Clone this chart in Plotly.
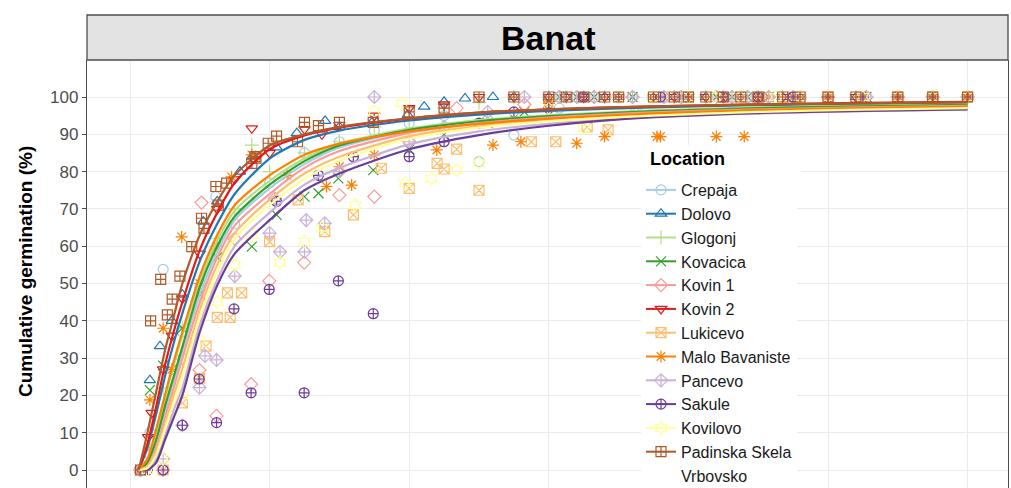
import plotly.graph_objects as go

# ---------------- data ----------------
LOCATIONS = ["Crepaja", "Dolovo", "Glogonj", "Kovacica", "Kovin 1", "Kovin 2",
             "Lukicevo", "Malo Bavaniste", "Pancevo", "Sakule", "Kovilovo",
             "Padinska Skela", "Vrbovsko"]
LEGEND_TITLE = "Location"
FACET_TITLE = "Banat"
Y_TITLE = "Cumulative germination (%)"

Y_TICKS = [0, 10, 20, 30, 40, 50, 60, 70, 80, 90, 100]
X_GRID = [0, 4, 8, 12, 16, 20, 24]

# fitted curves (cumulative germination %) at these times (days)
CURVE_DAYS = [0.25, 0.5, 0.75, 1, 1.25, 1.5, 2, 2.5, 3, 4, 5, 6, 8, 10, 12, 15, 18, 21, 24]
C_CREPAJA = [0, 2, 8, 16, 24, 32, 47, 58.5, 67, 75.5, 82, 86.5, 91, 93.4, 94.8, 96.1, 96.9, 97.4, 97.8]
C_DOLOVO = [0, 6, 15, 25, 34, 42, 56, 66, 74, 83.5, 88.5, 91, 93.7, 95.3, 96.3, 97.2, 97.8, 98.1, 98.4]
C_GLOGONJ = [0, 3, 10, 19, 28, 36, 50.5, 61.5, 69.5, 77.5, 83.5, 87.5, 91.5, 93.8, 95.1, 96.4, 97.2, 97.7, 98.0]
C_KOVACICA = [0, 2, 8, 17, 25, 33, 49, 60, 68, 76.5, 82.8, 87, 91.2, 93.5, 94.9, 96.2, 97, 97.5, 97.9]
C_KOVIN1 = [0, 1, 6, 14, 22, 30, 45, 57, 65.5, 74, 81, 85.5, 90.4, 93, 94.5, 95.9, 96.7, 97.2, 97.6]
C_KOVIN2 = [0, 7, 17, 28, 37, 45, 59, 69, 77, 86, 89.7, 91.8, 94.2, 95.8, 96.7, 97.5, 98, 98.4, 98.7]
C_LUKICEVO = [0, 1, 5, 12, 20, 27, 43, 55, 63.5, 72.5, 79.5, 84, 89.5, 92.2, 93.8, 95.2, 96.1, 96.7, 97.1]
C_MALO = [0, 3, 11, 20, 29, 37, 52, 63, 71, 79, 84.5, 87.5, 90.8, 92.8, 94.2, 95.6, 96.5, 97, 97.4]
C_PANCEVO = [0, 0.3, 3, 9, 16, 22, 39, 51, 60, 69, 76.5, 81, 87.3, 90.8, 92.8, 94.6, 95.6, 96.2, 96.7]
C_SAKULE = [0, 0, 2, 8, 14, 20, 37, 49.5, 58, 67, 75, 79.5, 86, 89.8, 92.3, 94.6, 95.7, 96.3, 96.7]
C_KOVILOVO = [0, 0.5, 4, 11, 18, 25, 41, 53, 62, 71, 78, 83, 88.8, 91.8, 93.5, 95, 96, 96.6, 97]
C_PADINSKA = [0, 10, 21, 32, 41, 50, 63, 72, 79, 87, 90, 92, 94.3, 95.8, 96.7, 97.5, 98, 98.3, 98.6]

# observed points (days, %)
X_CREPAJA = [0.3, 0.57, 0.95, 1.5, 2.0, 2.46, 3.0, 4.0, 5.0, 6.0, 7.0, 8.0, 9.0, 10.0, 11.0, 12.3,
             12.8, 13.3, 14.4, 15.3, 15.8, 16.8, 17.25, 17.7, 18.3, 19.0, 20.0, 21.1, 22.0, 23.0, 24.0]
Y_CREPAJA = [0, 10, 53.8, 37, 49, 73.3, 66, 77, 85, 88, 91, 93, 95, 82.7, 89.8, 97,
             100, 100, 100, 100, 100, 100, 100, 100, 100, 100, 100, 100, 100, 100, 100]

X_DOLOVO = [0.3, 0.57, 0.86, 1.2, 1.5, 2.1, 2.5, 3.15, 3.5, 4.2, 4.78, 5.59, 6.0, 7.0, 7.96, 8.43, 9.0,
            9.6, 10.4, 11, 12, 12.5, 13, 13.6, 14, 15, 15.6, 16, 16.5, 17, 17.5, 18, 18.7, 19.2, 20,
            20.8, 22, 23, 24]
Y_DOLOVO = [0, 24.1, 33.2, 40, 47, 66.6, 72, 80, 84, 86.5, 90.3, 93.6, 92, 94, 95.2, 97.4, 98.7,
            99.6, 100, 100, 100, 100, 100, 100, 100, 100, 100, 100, 100, 100, 100, 100, 100, 100, 100,
            100, 100, 100, 100]

X_GLOGONJ = [0.3, 0.57, 0.95, 1.5, 2.0, 2.5, 3.0, 3.49, 4.0, 5.0, 6.0, 7.0, 8.0, 9.0, 10, 11, 12,
             12.5, 13, 13.6, 14, 15, 15.6, 16, 16.5, 17, 17.5, 18, 18.7, 19.2, 20, 20.8, 22, 23, 24]
Y_GLOGONJ = [0, 6, 22, 38, 50, 62, 70, 87.1, 80, 85, 88, 92, 94, 97, 98.5, 100, 100,
             100, 100, 100, 100, 100, 100, 100, 100, 100, 100, 100, 100, 100, 100, 100, 100, 100, 100]

X_KOVACICA = [0.3, 0.57, 0.95, 1.5, 2.0, 2.5, 3.49, 4.2, 5.0, 5.4, 5.97, 6.97, 8.0, 9.0, 10.25, 11.3,
              12.3, 12.8, 13.3, 14.4, 15.3, 15.8, 16.8, 17.25, 17.7, 18.3, 19.0, 20.0, 21.1, 22.0,
              23.0, 24.0]
Y_KOVACICA = [0, 21.4, 28, 38, 47, 57, 59.9, 68.4, 73.3, 74.2, 78.2, 80.4, 86, 90, 93, 96,
              100, 100, 100, 100, 100, 100, 100, 100, 100, 100, 100, 100, 100, 100, 100, 100]

X_KOVIN1 = [0.3, 0.57, 0.95, 1.5, 1.99, 2.05, 2.48, 3.0, 3.47, 3.99, 4.99, 6.0, 7.0, 8.0, 9.36,
            10.25, 11.3, 12.3, 12.8, 13.3, 14.4, 15.3, 15.8, 16.8, 17.25, 17.7, 18.3, 19.0, 20.0,
            21.1, 22.0, 23.0, 24.0]
Y_KOVIN1 = [0, 4, 0, 30, 26.8, 71.7, 14.5, 62, 23.0, 50.7, 55.6, 73.7, 73.3, 88, 97,
            94, 98, 100, 100, 100, 100, 100, 100, 100, 100, 100, 100, 100, 100,
            100, 100, 100, 100]

X_KOVIN2 = [0.3, 0.52, 0.62, 0.95, 1.2, 1.5, 2.0, 2.5, 3.0, 3.49, 4.0, 5.0, 5.5, 6.0, 7.0, 8.0, 9.0,
            10, 11, 12, 12.5, 13, 13.6, 14, 15, 15.6, 16, 16.5, 17, 17.5, 18, 18.7, 19.2, 20, 20.8,
            22, 23, 24]
Y_KOVIN2 = [0, 8.8, 15.3, 27, 36, 46, 58, 70, 78, 91.6, 85, 91.4, 90, 92.5, 95, 97, 98,
            100, 100, 100, 100, 100, 100, 100, 100, 100, 100, 100, 100, 100, 100, 100, 100, 100, 100,
            100, 100, 100]

X_LUKICEVO = [0.95, 1.5, 1.99, 2.18, 2.5, 2.79, 2.87, 3.2, 4.0, 4.82, 5.58, 6.4, 7.2, 8.0, 8.8, 9.0,
              9.36, 10.0, 11.5, 12.2, 13.1, 13.7, 14.5, 15.3, 16.0, 17.0, 18.0, 19.0, 20.0, 21.0,
              22.0, 23.0, 24.0]
Y_LUKICEVO = [0, 18, 24.6, 33.2, 40.9, 47.5, 40.9, 47.5, 61.2, 72.4, 63.9, 68.4, 80.9, 75.5, 82.2,
              80.7, 86, 75, 88, 88, 92, 91.2, 96, 100, 100, 100, 100, 100, 100, 100,
              100, 100, 100]

X_MALO = [0.3, 0.57, 0.95, 1.2, 1.48, 2.0, 2.5, 2.91, 3.49, 4.5, 5.63, 6.0, 6.35, 7.0, 8.79, 10.4,
          11.2, 12.0, 12.8, 13.6, 15.1, 15.2, 16.8, 17.6, 18.3, 19.0, 20.0, 21.0, 22.0, 23.0, 24.0]
Y_MALO = [0, 18.8, 38, 27, 62.5, 50, 60, 78.6, 84.5, 79, 76, 81.3, 76.4, 84.5, 85.8, 87.1,
          88, 98.3, 87.6, 89.4, 89.4, 89.4, 89.4, 89.4, 100, 100, 100, 100, 100, 100, 100]

X_PANCEVO = [0.3, 0.95, 1.5, 1.99, 2.15, 2.48, 3.0, 4.0, 4.15, 4.3, 5.0, 5.05, 5.58, 6.0, 7.0, 8.0,
             9.0, 10.25, 11.3, 12.3, 12.8, 13.3, 14.4, 15.3, 15.8, 16.8, 17.25, 17.7, 18.3, 19.0,
             20.0, 21.1, 22.0, 23.0, 24.0]
Y_PANCEVO = [0, 3, 12, 22.1, 30.6, 29.5, 52, 63.5, 72.8, 58.5, 58.5, 67, 66.1, 80, 100, 88,
             92, 96, 100, 100, 100, 100, 100, 100, 100, 100, 100, 100, 100, 100,
             100, 100, 100, 100, 100]

X_SAKULE = [0.5, 0.95, 1.5, 1.98, 2.48, 2.98, 3.47, 3.99, 4.2, 4.99, 5.4, 5.97, 6.4, 6.97, 8.0, 9.0,
            10.0, 11.0, 12.0, 13.0, 14.0, 15.2, 16.0, 17.0, 18.0, 19.0, 20.0, 21.0, 22.0, 23.0, 24.0]
Y_SAKULE = [0, 0, 12, 24.4, 12.7, 43.2, 20.7, 48.4, 72, 20.7, 79, 50.7, 84, 41.9, 84, 88,
            93, 96, 97, 100, 100, 100, 100, 100, 100, 100, 100, 100, 100, 100, 100]

X_KOVILOVO = [0.5, 0.95, 1.5, 2.0, 2.5, 3.0, 3.5, 4.3, 5.0, 5.5, 6.45, 7.0, 7.78, 7.88, 8.64, 9.36,
              10.0, 11.0, 12.0, 13.0, 14.0, 15.0, 16.0, 16.75, 17.5, 18.5, 19.2, 20.0, 21.0, 22.0,
              23.0, 24.0]
Y_KOVILOVO = [0, 3, 20, 35, 45, 55, 63, 55.6, 61.2, 65, 71, 96.1, 98.3, 76.9, 78.2, 80.4,
              82.2, 95, 97, 91.6, 100, 100, 100, 100, 100, 100, 100, 100, 100, 100,
              100, 100]

X_PADINSKA = [0.3, 0.59, 0.88, 1.07, 1.21, 1.43, 1.77, 2.05, 2.12, 2.46, 2.53, 2.77, 3.49, 3.58,
              3.61, 3.96, 4.2, 4.8, 5.0, 5.4, 6.0, 6.97, 8.0, 9.0, 10, 11, 12, 12.5, 13, 13.6, 14,
              15, 15.6, 16, 16.5, 17, 17.5, 18, 18.7, 19.2, 20, 20.8, 22, 23, 24]
Y_PADINSKA = [0, 40, 51.1, 41.6, 45.8, 52, 59.9, 67.5, 64.8, 76, 71, 76.9, 82.2, 84,
              83.6, 87.6, 89.5, 88, 93.2, 92.3, 93.2, 93.2, 96, 97, 100, 100, 100, 100, 100, 100, 100,
              100, 100, 100, 100, 100, 100, 100, 100, 100, 100, 100, 100, 100, 100]

POINTS_X = [X_CREPAJA, X_DOLOVO, X_GLOGONJ, X_KOVACICA, X_KOVIN1, X_KOVIN2, X_LUKICEVO, X_MALO,
            X_PANCEVO, X_SAKULE, X_KOVILOVO, X_PADINSKA, []]
POINTS_Y = [Y_CREPAJA, Y_DOLOVO, Y_GLOGONJ, Y_KOVACICA, Y_KOVIN1, Y_KOVIN2, Y_LUKICEVO, Y_MALO,
            Y_PANCEVO, Y_SAKULE, Y_KOVILOVO, Y_PADINSKA, []]
CURVES = [C_CREPAJA, C_DOLOVO, C_GLOGONJ, C_KOVACICA, C_KOVIN1, C_KOVIN2, C_LUKICEVO, C_MALO,
          C_PANCEVO, C_SAKULE, C_KOVILOVO, C_PADINSKA, None]

# ---------------- styles ----------------
COLORS = ["#A6CEE3", "#1F78B4", "#B2DF8A", "#33A02C", "#FB9A99", "#E31A1C", "#FDBF6F",
          "#FF7F00", "#CAB2D6", "#6A3D9A", "#FFFF99", "#B15928", "rgba(0,0,0,0)"]
SYMBOLS = ["circle-open", "triangle-up-open", "cross-thin-open", "x-thin-open", "diamond-open",
           "triangle-down-open", "square-x-open", "asterisk-open", "diamond-cross-open",
           "circle-cross-open", "hexagram-open", "square-cross-open", "circle-x-open"]
FONT = "Liberation Sans, Arial, sans-serif"

fig = go.Figure()

# points
for i, name in enumerate(LOCATIONS):
    if not POINTS_X[i]:
        continue
    fig.add_trace(go.Scatter(
        x=POINTS_X[i], y=POINTS_Y[i], mode="markers", showlegend=False, name=name,
        marker=dict(symbol=SYMBOLS[i], size=10, color=COLORS[i],
                    line=dict(width=1.2, color=COLORS[i]))))

# fitted curves
for i, name in enumerate(LOCATIONS):
    if CURVES[i] is None:
        continue
    fig.add_trace(go.Scatter(
        x=CURVE_DAYS, y=CURVES[i], mode="lines", showlegend=False, name=name,
        line=dict(color=COLORS[i], width=2.2, shape="spline", smoothing=0.7)))

# legend keys
for i, name in enumerate(LOCATIONS):
    fig.add_trace(go.Scatter(
        x=[None], y=[None], mode="lines+markers", name=name, showlegend=True,
        line=dict(color=COLORS[i], width=2),
        marker=dict(symbol=SYMBOLS[i], size=10, color=COLORS[i],
                    line=dict(width=1.2, color=COLORS[i]))))

W, H = 1011, 488
L, R, T, B = 87, 3, 60, 0
plot_w = W - L - R
plot_h = H - T - B
px_per_unit_y = 3.73
y_top = 100 + (97 - T) / px_per_unit_y
y_bot = y_top - plot_h / px_per_unit_y
px_per_day = 34.9
x_left = (L - 130) / px_per_day
x_right = (W - R - 130) / px_per_day


def px_x(p):
    return (p - L) / plot_w


def px_y(p):
    return (H - B - p) / plot_h


fig.update_layout(
    width=W, height=H,
    margin=dict(l=L, r=R, t=T, b=B, pad=0, autoexpand=False),
    paper_bgcolor="white", plot_bgcolor="white",
    font=dict(family=FONT, color="#1A1A1A"),
    xaxis=dict(range=[x_left, x_right], tickvals=X_GRID, showticklabels=False, ticks="",
               showgrid=True, gridcolor="#EBEBEB", gridwidth=1.1, zeroline=False,
               showline=False),
    yaxis=dict(range=[y_bot, y_top], tickvals=Y_TICKS, ticks="outside", ticklen=4,
               tickcolor="#4D4D4D", tickwidth=1.1,
               tickfont=dict(family=FONT, size=17, color="#4D4D4D"),
               showgrid=True, gridcolor="#EBEBEB", gridwidth=1.1, zeroline=False,
               showline=True, linecolor="#4D4D4D", linewidth=1.3, mirror=True),
    legend=dict(x=px_x(641), y=px_y(173), xanchor="left", yanchor="top",
                bgcolor="white", borderwidth=0,
                font=dict(family=FONT, size=16, color="#1A1A1A"),
                traceorder="normal", itemwidth=30),
    showlegend=True,
)

# white background behind the legend title (legend box continues below)
fig.add_shape(type="rect", xref="paper", yref="paper", x0=px_x(641), x1=px_x(801),
              y0=px_y(176), y1=px_y(145), fillcolor="white", line=dict(width=0), layer="above")
fig.add_annotation(text="<b>" + LEGEND_TITLE + "</b>", xref="paper", yref="paper",
                   x=px_x(648), y=px_y(159), xanchor="left", yanchor="middle", showarrow=False,
                   font=dict(family=FONT, size=18, color="#000000"))

# facet strip
fig.add_shape(type="rect", xref="paper", yref="paper", x0=0, x1=1, y0=1,
              y1=px_y(15), fillcolor="#E3E3E3",
              line=dict(color="#4D4D4D", width=1.3), layer="above")
fig.add_annotation(text="<b>" + FACET_TITLE + "</b>", xref="paper", yref="paper", x=0.5,
                   y=px_y(38), xanchor="center", yanchor="middle", showarrow=False,
                   font=dict(family=FONT, size=34, color="#000000"))
# y-axis title
fig.add_annotation(text="<b>" + Y_TITLE + "</b>", xref="paper", yref="paper",
                   x=px_x(25), y=px_y(272), xanchor="center",
                   yanchor="middle", textangle=-90, showarrow=False,
                   font=dict(family=FONT, size=19, color="#000000"))

fig.write_html("out.html", config={"displayModeBar": False})
